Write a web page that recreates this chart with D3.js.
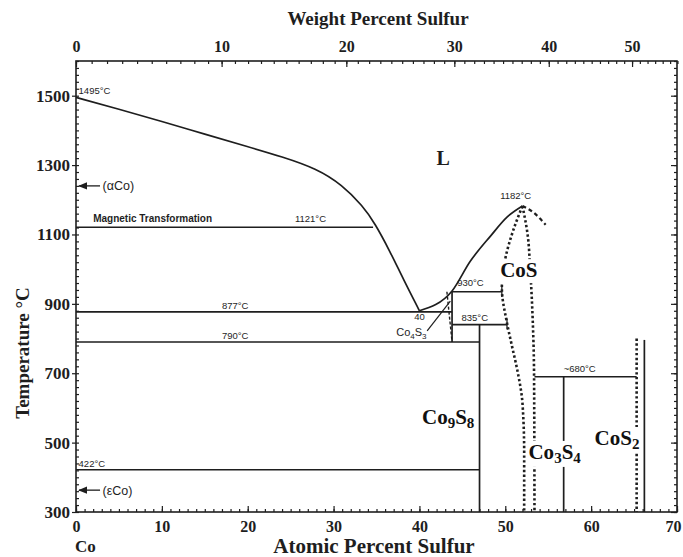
<!DOCTYPE html>
<html><head><meta charset="utf-8">
<script src="https://cdn.jsdelivr.net/npm/d3@7"></script>
<style>body{margin:0;background:#fff}</style>
</head><body><svg id="c" width="683" height="557"></svg>
<script>
// ---- data ----
const atTicks = [0, 10, 20, 30, 40, 50, 60, 70];
const wtTicks = [0, 10, 20, 30, 40, 50];
const tempTicks = [300, 500, 700, 900, 1100, 1300, 1500];

// liquidus, Co-rich side (at.% S, °C)
const liquidusCo = [[0,1495],[5,1461],[10,1426],[15,1389],[20,1353],[24,1324],[28,1290],[31,1243],[33.4,1182],[34.8,1133],[36.6,1050],[38.1,972],[40,880]];
// liquidus, S side up to CoS congruent point
const liquidusS = [[40,880],[43.8,937],[45.9,1022],[48.3,1096],[50.2,1150],[52,1182]];
const liquidusDashed = [[52,1182],[53.3,1163],[54.7,1128]];
// CoS homogeneity range (dotted)
const cosLeft = [[52,1182],[50.9,1110],[50.0,1030],[49.6,946],[50.2,845],[50.8,776],[51.4,709],[52.0,614],[52.2,470],[52.2,300]];
const cosRight = [[52,1182],[52.6,1100],[52.9,1000],[53.2,850],[53.35,700],[53.4,300]];
const co4s3Dashed = [[43.2,935],[43.8,790]];
const co4s3Leader = [[40.9,822],[43.6,908]];

// horizontal invariant lines: [T, from at.%, to at.%]
const isotherms = [[1121,0,34.6],[877,0,43.8],[790,0,47],[422,0,47],[935,43.8,49.6],[840,43.8,50.2],[690,53.4,65.3]];
// vertical solid lines: [at.%, Ttop, Tbottom]
const verticals = [[43.8,937,790],[47,840,300],[56.8,690,300],[66.2,796,300]];
// vertical dotted lines
const verticalsDotted = [[65.3,800,300]];
// small end ticks
const endTicks = [[49.6,955,920],[50.2,858,826]];

// small annotations: [text, at.%, T]
const notes = [["1495°C",0.3,1506],["1121°C",25.5,1137],["877°C",17,885],["790°C",17,799],["422°C",0.3,430],
  ["40",39.4,852],["930°C",44.4,951],["835°C",44.9,851],["1182°C",49.4,1201],["~680°C",56.8,703]];
const magneticLabel = ["Magnetic Transformation", 2.0, 1137];
// phase labels: [main, sub, main, sub, at.%, T]
const phaseLabels = [["Co","","S","",49.4,977],["Co","9","S","8",40.3,554],["Co","3","S","4",52.7,453],["Co","","S","2",60.4,493]];
const arrows = [["(αCo)",1240],["(εCo)",363]];

// ---- drawing ----
const svg = d3.select("#c");
const L = 76, R = 677, T = 61, B = 512;
const x = d3.scaleLinear().domain([0,70]).range([L,R]);
const y = d3.scaleLinear().domain([300,1600]).range([B,T]);
const wtToAt = w => (w/32.06)/((w/32.06)+((100-w)/58.93))*100;
const ink = "#1e1e1e";
const serif = "'Liberation Serif','Times New Roman',serif";
const sans = "'Liberation Sans',Arial,sans-serif";

// frame
svg.append("rect").attr("x",L).attr("y",T).attr("width",R-L).attr("height",B-T)
  .attr("fill","none").attr("stroke",ink).attr("stroke-width",1.6);

// bottom axis
const gb = svg.append("g").attr("transform",`translate(0,${B})`);
gb.call(d3.axisBottom(x).tickValues(d3.range(0,71,1)).tickSize(-3).tickFormat(""));
gb.append("g").call(d3.axisBottom(x).tickValues(atTicks).tickSize(-6).tickPadding(9));
gb.selectAll(".domain").remove();
gb.selectAll("text").attr("font-family",serif).attr("font-weight","bold").attr("font-size",16).attr("fill",ink);
gb.selectAll(".tick:last-of-type text").attr("dx",-4);
gb.selectAll("line").attr("stroke",ink).attr("stroke-width",1.2);

// top axis (weight %)
const gt = svg.append("g").attr("transform",`translate(0,${T})`);
gt.call(d3.axisTop(x).tickValues(d3.range(0,57,1).map(wtToAt)).tickSize(-3).tickFormat(""));
gt.append("g").call(d3.axisTop(x).tickValues(wtTicks.map(wtToAt)).tickSize(-6).tickPadding(9)
  .tickFormat((d,i)=>wtTicks[i]));
gt.selectAll(".domain").remove();
gt.selectAll("text").attr("font-family",serif).attr("font-weight","bold").attr("font-size",16).attr("fill",ink);
gt.selectAll("line").attr("stroke",ink).attr("stroke-width",1.2);

// left axis
const gl = svg.append("g").attr("transform",`translate(${L},0)`);
gl.call(d3.axisLeft(y).tickValues(d3.range(300,1601,20)).tickSize(-3).tickFormat(""));
gl.append("g").call(d3.axisLeft(y).tickValues(tempTicks).tickSize(4).tickPadding(2).tickFormat(d3.format("d")));
gl.selectAll(".domain").remove();
gl.selectAll("text").attr("font-family",serif).attr("font-weight","bold").attr("font-size",17).attr("fill",ink);
gl.selectAll("line").attr("stroke",ink).attr("stroke-width",1.2);

// right axis
const gr = svg.append("g").attr("transform",`translate(${R},0)`);
gr.call(d3.axisRight(y).tickValues(d3.range(300,1601,20)).tickSize(-3).tickFormat(""));
gr.append("g").call(d3.axisRight(y).tickValues(tempTicks).tickSize(-6).tickFormat(""));
gr.selectAll(".domain").remove();
gr.selectAll("line").attr("stroke",ink).attr("stroke-width",1.2);

// axis titles
svg.append("text").attr("x",378).attr("y",25).attr("text-anchor","middle")
  .attr("font-family",serif).attr("font-weight","bold").attr("font-size",19).attr("fill",ink).text("Weight Percent Sulfur");
svg.append("text").attr("x",374).attr("y",553).attr("text-anchor","middle")
  .attr("font-family",serif).attr("font-weight","bold").attr("font-size",21).attr("fill",ink).text("Atomic Percent Sulfur");
svg.append("text").attr("transform","translate(29,353) rotate(-90)").attr("text-anchor","middle")
  .attr("font-family",serif).attr("font-weight","bold").attr("font-size",19).attr("fill",ink).text("Temperature °C");
svg.append("text").attr("x",x(0)-1).attr("y",552)
  .attr("font-family",serif).attr("font-weight","bold").attr("font-size",17).attr("fill",ink).text("Co");

const line = d3.line().x(d=>x(d[0])).y(d=>y(d[1]));
const curveX = d3.line().x(d=>x(d[0])).y(d=>y(d[1])).curve(d3.curveBasis);
const curveM = d3.line().x(d=>x(d[0])).y(d=>y(d[1])).curve(d3.curveMonotoneX);
const curveY = d3.line().x(d=>x(d[0])).y(d=>y(d[1])).curve(d3.curveMonotoneY);
const plot = svg.append("g");

plot.append("path").attr("d",curveX(liquidusCo)).attr("fill","none").attr("stroke",ink).attr("stroke-width",1.7);
plot.append("path").attr("d",curveM(liquidusS)).attr("fill","none").attr("stroke",ink).attr("stroke-width",1.7);
plot.append("path").attr("d",curveM(liquidusDashed)).attr("fill","none").attr("stroke",ink).attr("stroke-width",2.2).attr("stroke-dasharray","4,3");
[cosLeft,cosRight].forEach(c=>plot.append("path").attr("d",curveY(c)).attr("fill","none").attr("stroke",ink)
  .attr("stroke-width",2.6).attr("stroke-dasharray","2.4,2.4"));
plot.append("path").attr("d",line(co4s3Dashed)).attr("fill","none").attr("stroke",ink).attr("stroke-width",1.4).attr("stroke-dasharray","3,2");
plot.append("path").attr("d",line(co4s3Leader)).attr("fill","none").attr("stroke",ink).attr("stroke-width",1.2);

isotherms.forEach(d=>plot.append("line").attr("x1",x(d[1])).attr("x2",x(d[2])).attr("y1",y(d[0])).attr("y2",y(d[0]))
  .attr("stroke",ink).attr("stroke-width",1.6));
verticals.forEach(d=>plot.append("line").attr("x1",x(d[0])).attr("x2",x(d[0])).attr("y1",y(d[1])).attr("y2",y(d[2]))
  .attr("stroke",ink).attr("stroke-width",1.7));
verticalsDotted.forEach(d=>plot.append("line").attr("x1",x(d[0])).attr("x2",x(d[0])).attr("y1",y(d[1])).attr("y2",y(d[2]))
  .attr("stroke",ink).attr("stroke-width",2.6).attr("stroke-dasharray","2.4,2.4"));
endTicks.forEach(d=>plot.append("line").attr("x1",x(d[0])).attr("x2",x(d[0])).attr("y1",y(d[1])).attr("y2",y(d[2]))
  .attr("stroke",ink).attr("stroke-width",1.3));

// annotations
notes.forEach(d=>plot.append("text").attr("x",x(d[1])).attr("y",y(d[2])).attr("font-family",sans)
  .attr("font-size",9.5).attr("fill",ink).text(d[0]));
plot.append("text").attr("x",x(magneticLabel[1])).attr("y",y(magneticLabel[2])).attr("font-family",sans)
  .attr("font-weight","bold").attr("font-size",10).attr("fill",ink).text(magneticLabel[0]);
// Co4S3 small label
const c43 = plot.append("text").attr("x",x(37.3)).attr("y",y(806)).attr("font-family",sans).attr("font-size",11).attr("fill",ink);
c43.append("tspan").text("Co");
c43.append("tspan").attr("font-size",8).attr("dy",3).text("4");
c43.append("tspan").attr("dy",-3).text("S");
c43.append("tspan").attr("font-size",8).attr("dy",3).text("3");

// L
plot.append("text").attr("x",x(42)).attr("y",y(1300)).attr("font-family",serif).attr("font-weight","bold")
  .attr("font-size",20).attr("fill",ink).text("L");

// phase labels with white backing
phaseLabels.forEach(d=>{
  const g = plot.append("g");
  const t = g.append("text").attr("x",x(d[4])).attr("y",y(d[5])).attr("font-family",serif)
    .attr("font-weight","bold").attr("font-size",21).attr("fill","#111");
  t.append("tspan").text(d[0]);
  if (d[1]) t.append("tspan").attr("font-size",15).attr("dy",4).text(d[1]);
  t.append("tspan").attr("dy",d[1]?-4:0).text(d[2]);
  if (d[3]) t.append("tspan").attr("font-size",15).attr("dy",4).text(d[3]);
  const bb = t.node().getBBox();
  g.insert("rect","text").attr("x",bb.x-1).attr("y",bb.y+1).attr("width",bb.width+2).attr("height",bb.height)
    .attr("fill","#fff");
});

// arrows to axis
svg.append("defs").append("marker").attr("id","ah").attr("viewBox","0 0 10 10").attr("refX",9).attr("refY",5)
  .attr("markerWidth",7).attr("markerHeight",7).attr("orient","auto")
  .append("path").attr("d","M0,1 L10,5 L0,9 Z").attr("fill",ink);
arrows.forEach(d=>{
  plot.append("line").attr("x1",x(2.8)).attr("x2",x(0)+3).attr("y1",y(d[1])).attr("y2",y(d[1]))
    .attr("stroke",ink).attr("stroke-width",1.3).attr("marker-end","url(#ah)");
  plot.append("text").attr("x",x(3.1)).attr("y",y(d[1])+4.5).attr("font-family",sans).attr("font-size",12.5)
    .attr("fill",ink).text(d[0]);
});
</script></body></html>
